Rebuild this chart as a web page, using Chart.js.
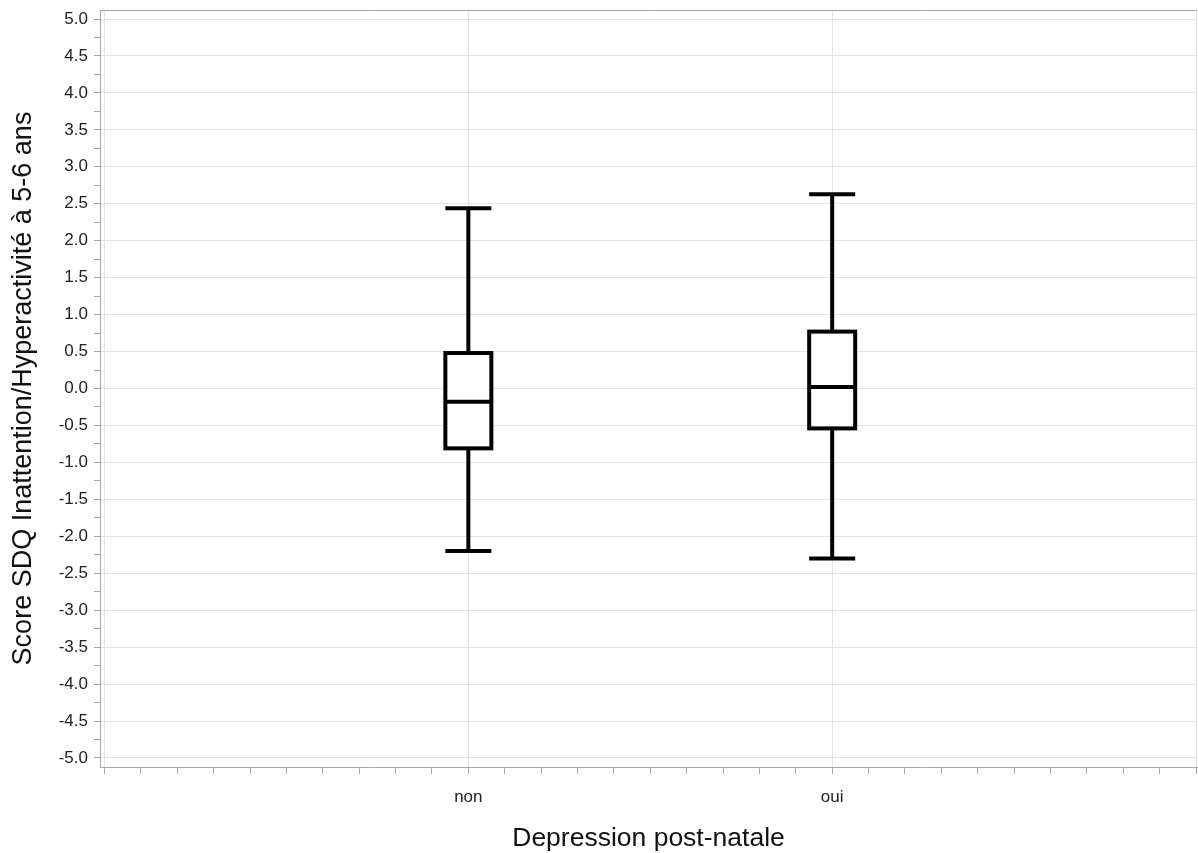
<!DOCTYPE html>
<html>
<head>
<meta charset="utf-8">
<script src="https://cdn.jsdelivr.net/npm/chart.js@4.4.0/dist/chart.umd.min.js"></script>
<style>
  html, body { margin: 0; padding: 0; background: #fff; }
</style>
</head>
<body>
<canvas id="boxChart" width="1198" height="853"></canvas>
<script>
// Données (score SDQ inattention / hyperactivité)
const categories = ['non', 'oui'];
const positions = [1, 2];
const whiskerLow = [-2.20, -2.30];
const q1 = [-0.81, -0.54];
const median = [-0.18, 0.02];
const q3 = [0.48, 0.77];
const whiskerHigh = [2.44, 2.63];

const axisColor = '#a4a8ac';
const gridColor = '#e4e4e4';
const fontFamily = '"Liberation Sans", Arial, sans-serif';

// Boîtes à moustaches dessinées avec les échelles de Chart.js
const boxPlot = {
    id: 'boxPlot',
    afterDatasetsDraw(chart) {
        const { ctx, scales: { x, y } } = chart;
        const half = 23;
        const line = (x1, y1, x2, y2) => {
            ctx.beginPath();
            ctx.moveTo(x1, y1);
            ctx.lineTo(x2, y2);
            ctx.stroke();
        };
        ctx.save();
        ctx.lineWidth = 4;
        ctx.strokeStyle = '#000';
        ctx.lineCap = 'butt';
        positions.forEach((p, i) => {
            const cx = x.getPixelForValue(p);
            const yHi = y.getPixelForValue(whiskerHigh[i]);
            const yLo = y.getPixelForValue(whiskerLow[i]);
            const yQ3 = y.getPixelForValue(q3[i]);
            const yQ1 = y.getPixelForValue(q1[i]);
            const yMed = y.getPixelForValue(median[i]);
            line(cx, yHi, cx, yQ3);
            line(cx, yQ1, cx, yLo);
            line(cx - half, yHi, cx + half, yHi);
            line(cx - half, yLo, cx + half, yLo);
            ctx.fillStyle = '#fff';
            ctx.fillRect(cx - half, yQ3, half * 2, yQ1 - yQ3);
            ctx.strokeRect(cx - half, yQ3, half * 2, yQ1 - yQ3);
            line(cx - half, yMed, cx + half, yMed);
        });
        ctx.restore();
    },
    afterDraw(chart) {
        // bord supérieur du cadre
        const { ctx, chartArea } = chart;
        ctx.save();
        ctx.strokeStyle = axisColor;
        ctx.lineWidth = 1;
        ctx.beginPath();
        ctx.moveTo(chartArea.left, chartArea.top + 0.5);
        ctx.lineTo(chartArea.right, chartArea.top + 0.5);
        ctx.stroke();
        ctx.restore();
    }
};

const ctx = document.getElementById('boxChart').getContext('2d');
const chart = new Chart(ctx, {
    type: 'scatter',
    data: {
        datasets: [{
            data: positions.map((p, i) => ({ x: p, y: median[i] })),
            pointRadius: 0,
            pointHoverRadius: 0
        }]
    },
    options: {
        responsive: false,
        animation: false,
        layout: { padding: { top: 10, right: 1, left: 0, bottom: 0 } },
        plugins: {
            legend: { display: false },
            tooltip: { enabled: false }
        },
        scales: {
            x: {
                type: 'linear',
                min: -0.0124,
                max: 3.0027,
                afterBuildTicks: s => {
                    s.ticks = [];
                    for (let i = 0; i <= 30; i++) s.ticks.push({ value: i / 10 });
                },
                afterFit: s => {
                    s.height = 86;
                    s.paddingLeft = 0;
                    s.paddingRight = 0;
                },
                ticks: {
                    autoSkip: false,
                    maxRotation: 0,
                    padding: 13,
                    color: '#222',
                    font: { family: fontFamily, size: 17 },
                    callback: v => {
                        const k = positions.indexOf(Math.round(v * 10) / 10);
                        return k >= 0 ? categories[k] : '';
                    }
                },
                grid: {
                    color: c => Math.abs(c.tick.value - Math.round(c.tick.value)) < 1e-6 ? gridColor : 'rgba(0,0,0,0)',
                    tickColor: axisColor,
                    tickLength: 7
                },
                border: { color: axisColor, width: 1 },
                title: {
                    display: true,
                    text: 'Depression post-natale',
                    color: '#111',
                    font: { family: fontFamily, size: 26.5, lineHeight: 1.1 },
                    padding: { top: 0, bottom: 0 }
                }
            },
            y: {
                min: -5.122,
                max: 5.122,
                afterBuildTicks: s => {
                    s.ticks = [];
                    for (let i = -20; i <= 20; i++) s.ticks.push({ value: i / 4 });
                },
                afterFit: s => {
                    s.width = 100;
                    s.paddingTop = 0;
                    s.paddingBottom = 0;
                },
                ticks: {
                    autoSkip: false,
                    padding: 6,
                    color: '#222',
                    font: { family: fontFamily, size: 17 },
                    callback: v => (Math.round(v * 4) % 2 === 0 ? v.toFixed(1) : '')
                },
                grid: {
                    color: c => (Math.round(c.tick.value * 4) % 2 === 0 ? gridColor : 'rgba(0,0,0,0)'),
                    tickColor: axisColor,
                    tickLength: 6
                },
                border: { color: axisColor, width: 1 },
                title: {
                    display: true,
                    text: 'Score SDQ Inattention/Hyperactivité à 5-6 ans',
                    color: '#111',
                    font: { family: fontFamily, size: 27 },
                    padding: { top: 7, bottom: 0 }
                }
            }
        }
    },
    plugins: [boxPlot]
});
</script>
</body>
</html>
